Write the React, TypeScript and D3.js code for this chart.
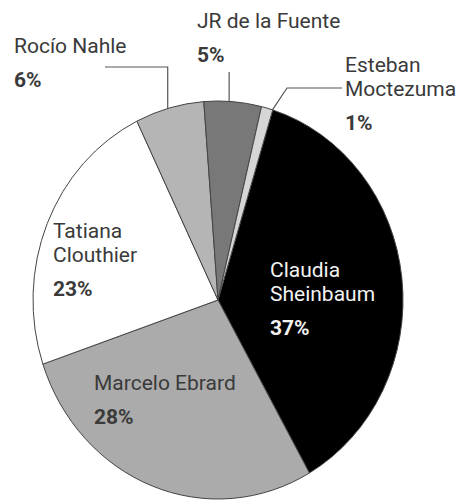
import React from 'react';
import * as d3 from 'd3';

// slices, clockwise from the top-right
const names = ['Claudia Sheinbaum', 'Marcelo Ebrard', 'Tatiana Clouthier', 'Rocío Nahle', 'JR de la Fuente', 'Esteban Moctezuma'];
const shares = [37, 28, 23, 6, 5, 1];
const fills = ['#000000', '#ababab', '#ffffff', '#b5b5b5', '#787878', '#d6d6d6'];

// label layout: lines, anchor, text colour
const labelLines = [
  ['Claudia', 'Sheinbaum'],
  ['Marcelo Ebrard'],
  ['Tatiana', 'Clouthier'],
  ['Rocío Nahle'],
  ['JR de la Fuente'],
  ['Esteban', 'Moctezuma'],
];
const labelPos = [
  { x: 270, y: 277, color: '#f2f2f2' },
  { x: 94, y: 390, color: '#3a3a3a' },
  { x: 53, y: 238, color: '#3a3a3a' },
  { x: 14, y: 53, color: '#3a3a3a' },
  { x: 197, y: 28, color: '#3a3a3a' },
  { x: 345, y: 72, color: '#3a3a3a' },
];
// leader lines for the small outside slices: [from, elbow]; 0 = take x from the slice edge
const leaders: Record<number, [number, number][]> = {
  3: [[105, 67], [0, 67]],
  4: [[0, 72]],
  5: [[342, 88], [287, 88]],
};

const W = 458;
const H = 502;
const cx = 218;
const cy = 300;
const rx = 185;
const ry = 199;
const lineGap = 24;
const pctGap = 34;
const fontSize = 21;

export default function App() {
  const start = (17.2 * Math.PI) / 180;
  const pie = d3.pie<number>().sort(null).value(d => d).startAngle(start).endAngle(start + 2 * Math.PI);
  const arcs = pie(shares);
  const arc = d3.arc<d3.PieArcDatum<number>>().innerRadius(0).outerRadius(rx);

  const edge = (a: d3.PieArcDatum<number>, shift = 0) => {
    const m = (a.startAngle + a.endAngle) / 2 + shift;
    return [cx + rx * Math.sin(m), cy - ry * Math.cos(m)];
  };

  return (
    <div style={{ position: 'absolute', left: 0, top: 0 }}>
      <svg width={W} height={H} style={{ display: 'block', background: '#fff' }} fontFamily="Roboto, sans-serif">
        <g transform={`translate(${cx},${cy}) scale(1,${ry / rx})`}>
          {arcs.map((a, i) => (
            <path key={i} d={arc(a) || ''} fill={fills[i]} stroke="#444" strokeWidth={1} vectorEffect="non-scaling-stroke" />
          ))}
        </g>
        {Object.keys(leaders).map(k => {
          const i = +k;
          const [ex, ey] = edge(arcs[i], i === 5 ? 0.03 : i === 4 ? -0.02 : -0.01);
          const pts = leaders[i].map(([x, y]) => [x === 0 ? ex : x, y]);
          pts.push([ex, ey]);
          return (
            <polyline key={k} points={pts.map(p => p.join(',')).join(' ')} fill="none" stroke="#555" strokeWidth={1.2} />
          );
        })}
        {labelLines.map((lines, i) => {
          const p = labelPos[i];
          const last = p.y + (lines.length - 1) * lineGap;
          return (
            <g key={i} fill={p.color}>
              {lines.map((t, j) => (
                <text key={j} x={p.x} y={p.y + j * lineGap} fontSize={fontSize}>{t}</text>
              ))}
              <text x={p.x} y={last + pctGap} fontSize={fontSize} fontWeight="bold">{shares[i]}%</text>
            </g>
          );
        })}
      </svg>
    </div>
  );
}
